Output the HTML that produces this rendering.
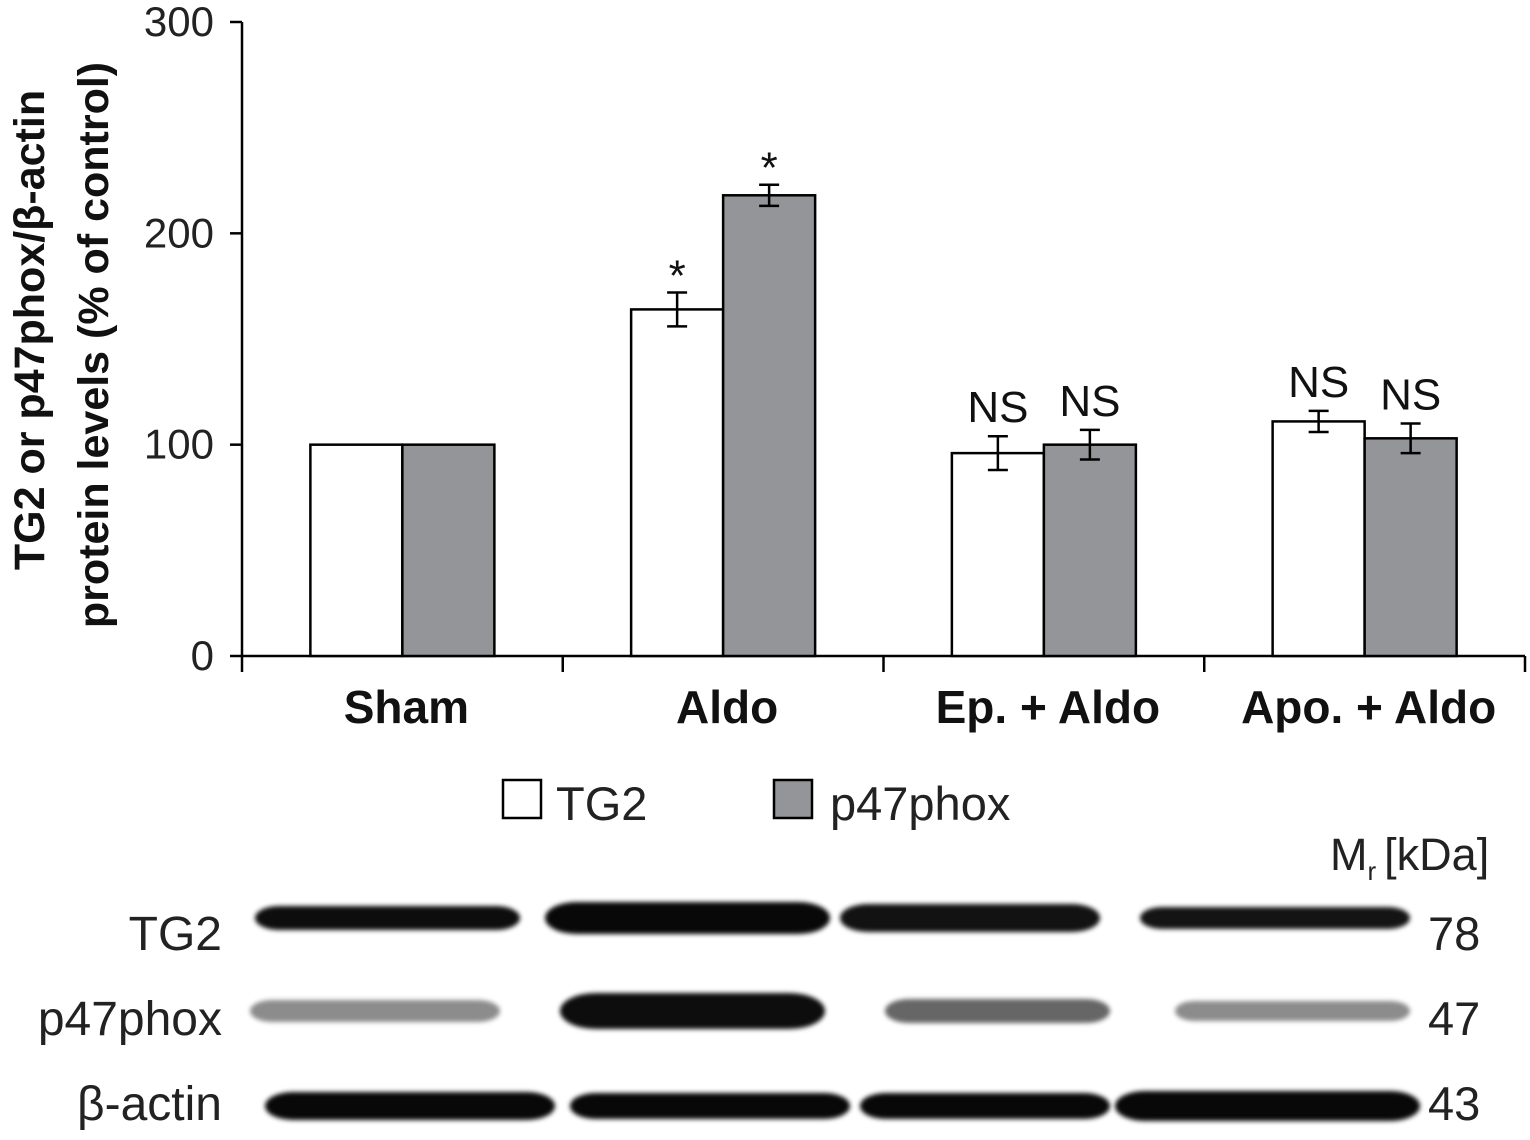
<!DOCTYPE html>
<html><head><meta charset="utf-8">
<style>
html,body{margin:0;padding:0;background:#fff;}
svg{display:block;font-family:"Liberation Sans","DejaVu Sans",sans-serif;}
</style></head>
<body>
<svg id="chart" width="1530" height="1140" viewBox="0 0 1530 1140">
<defs>
<filter id="blur" x="-10%" y="-100%" width="120%" height="300%"><feGaussianBlur stdDeviation="2.5"/></filter>
</defs>
<g id="axes"></g>
<g id="bars"></g>
<g id="blot"></g>
</svg>
<script>
const categories = ["Sham","Aldo","Ep. + Aldo","Apo. + Aldo"];
const tg2Values = [100,164,96,111];
const p47Values = [100,218,100,103];
const tg2Err = [0,8,8,5];
const p47Err = [0,5,7,7];
const tg2Ann = ["","*","NS","NS"];
const p47Ann = ["","*","NS","NS"];
const yTicks = [0,100,200,300];

const NS="http://www.w3.org/2000/svg";
const X0=242,X1=1525,Y0=656,Y1=22,YMAX=300;
const catW=(X1-X0)/categories.length, barW=92;
const y=v=>Y0-(v/YMAX)*(Y0-Y1);
const xc=i=>X0+catW*i+catW/2;
function mk(tag,attrs,parent,text){const e=document.createElementNS(NS,tag);for(const k in attrs)e.setAttribute(k,attrs[k]);if(text!==undefined)e.textContent=text;parent.appendChild(e);return e;}
const axes=document.getElementById('axes'), bars=document.getElementById('bars'), blot=document.getElementById('blot');

let e=mk('line',{x1:X0,y1:Y1,x2:X0,y2:Y0,stroke:'#000','stroke-width':2.5},axes);

e=mk('line',{x1:X0,y1:Y0,x2:X1,y2:Y0,stroke:'#000','stroke-width':2.5},axes);

yTicks.forEach(t=>{
  e=mk('line',{x1:X0-12,y1:y(t),x2:X0,y2:y(t),stroke:'#000','stroke-width':2.5},axes);
  
  e=mk('text',{x:X0-28,y:y(t)+14,'text-anchor':'end','font-size':42,fill:'#222'},axes,String(t));
  
});
for(let i=0;i<=categories.length;i++){
  e=mk('line',{x1:X0+catW*i,y1:Y0,x2:X0+catW*i,y2:Y0+16,stroke:'#000','stroke-width':2.5},axes);
  
}
categories.forEach((c,i)=>{
  e=mk('text',{x:xc(i)+4,y:723,'text-anchor':'middle','font-size':46,'font-weight':'bold',fill:'#111'},axes,c);
  
});
e=mk('text',{transform:'translate(44,330) rotate(-90)','text-anchor':'middle','font-size':43,'font-weight':'bold',fill:'#111'},axes,'TG2 or p47phox/β-actin');

e=mk('text',{transform:'translate(108,345) rotate(-90)','text-anchor':'middle','font-size':43,'font-weight':'bold',fill:'#111'},axes,'protein levels (% of control)');


function series(vals,errs,anns,off,fill,name){
  vals.forEach((v,i)=>{
    const x=xc(i)+off;
    let r=mk('rect',{x:x,y:y(v),width:barW,height:Y0-y(v),fill:fill,stroke:'#000','stroke-width':2.5},bars);
    
    const cx=x+barW/2;
    if(errs[i]>0){
      const g=mk('g',{stroke:'#000','stroke-width':2.5},bars);
      
      mk('line',{x1:cx,y1:y(v+errs[i]),x2:cx,y2:y(v-errs[i])},g);
      mk('line',{x1:cx-10,y1:y(v+errs[i]),x2:cx+10,y2:y(v+errs[i])},g);
      mk('line',{x1:cx-10,y1:y(v-errs[i]),x2:cx+10,y2:y(v-errs[i])},g);
    }
    if(anns[i]){
      const star=anns[i]==='*';
      r=mk('text',{x:cx,y:y(v+errs[i])-(star?2:14),'text-anchor':'middle','font-size':star?44:44,fill:'#111'},bars,anns[i]);
      
    }
  });
}
series(tg2Values,tg2Err,tg2Ann,-barW,'#fff','tg2');
series(p47Values,p47Err,p47Ann,0,'#939598','p47phox');

// legend
e=mk('rect',{x:503,y:780,width:38,height:38,fill:'#fff',stroke:'#000','stroke-width':2.5},axes);

e=mk('text',{x:556,y:820,'font-size':47,fill:'#222'},axes,'TG2');

e=mk('rect',{x:774,y:780,width:38,height:38,fill:'#939598',stroke:'#000','stroke-width':2.5},axes);

e=mk('text',{x:830,y:820,'font-size':47,fill:'#222'},axes,'p47phox');


// blot
e=mk('text',{x:1330,y:870,'font-size':45,fill:'#222'},blot,'M');

mk('tspan',{'font-size':26,dy:10},e,'r');
mk('tspan',{dy:-10,dx:8},e,'[kDa]');
const rows=[
 {name:'TG2',ly:950,by:918,mw:'78',bands:[[255,520,0.95,12],[545,830,0.97,16],[840,1100,0.93,14],[1140,1410,0.92,11]]},
 {name:'p47phox',ly:1035,by:1011,mw:'47',bands:[[250,500,0.45,11],[560,825,0.95,18],[885,1110,0.6,12],[1175,1410,0.45,10]]},
 {name:'β-actin',ly:1120,by:1106,mw:'43',bands:[[265,555,0.97,14],[570,850,0.97,13],[860,1110,0.97,13],[1115,1420,0.97,15]]}
];
rows.forEach(r=>{
  e=mk('text',{x:222,y:r.ly,'text-anchor':'end','font-size':48,fill:'#222'},blot,r.name);
  
  e=mk('text',{x:1428,y:r.ly,'font-size':47,fill:'#222'},blot,r.mw);
  
  r.bands.forEach(b=>{
    e=mk('rect',{x:b[0],y:r.by-b[3],width:b[1]-b[0],height:2*b[3],rx:b[3]*2,ry:b[3],fill:'#000','fill-opacity':b[2],filter:'url(#blur)'},blot);
    
  });
});
</script>
</body></html>
